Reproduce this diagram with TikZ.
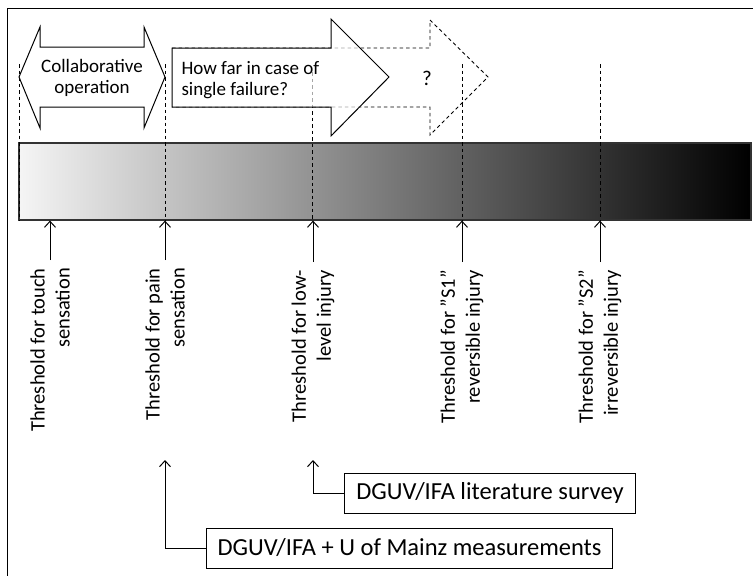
\documentclass[tikz,border=0pt]{standalone}
\usepackage{fontspec}
\setmainfont{Carlito}
\usetikzlibrary{arrows.meta, positioning, calc}

\begin{document}
\begin{tikzpicture}[x=1pt, y=-1pt,
    bar/.style={draw=black!80, line width=1.2pt, left color=black!4, middle color=black!33, right color=black, minimum width=732pt, minimum height=77pt, inner sep=0pt},
    guide/.style={line width=0.9pt, dash pattern=on 3.5pt off 3pt},
    band/.style={line width=1pt, fill=white, fill opacity=0.65, text opacity=1},
    marker/.style={-{Straight Barb[length=6pt, width=11pt]}, line width=1pt},
    level/.style={rotate=90, anchor=east, align=right, inner sep=0pt, font=\fontsize{20.5}{25}\selectfont},
    source/.style={draw, line width=1pt, minimum height=40pt, anchor=west, font=\fontsize{24.5}{28}\selectfont},
    font=\fontsize{19}{21}\selectfont]
\clip (0,0) rectangle (753,576);
\draw[line width=1pt] (7,8) rectangle (790,600);
% severity scale
\node[bar] (bar) at (385,181.5) {};
\foreach \gx/\gy in {19/64, 165/64, 312/72, 462/64, 600/64}
  \draw[guide] (\gx,\gy) -- (\gx,\gy |- bar.south);
% arrows on top of the scale
\draw[guide] (172,48) -- (430,48) -- (430,20) -- (488,77) -- (430,135) -- (430,107) -- (172,107);
\node[font=\fontsize{21}{21}\selectfont] (unknown) at (427,78) {?};
\draw[band] (19,77) -- (40,27) -- (40,47) -- (144,47) -- (144,27) -- (165,77)
  -- (144,128) -- (144,107) -- (40,107) -- (40,128) -- cycle;
\node[align=center] (collab) at (92,78) {Collaborative\\operation};
\draw[band] (172,48) -- (331,48) -- (331,19) -- (389,77) -- (331,136) -- (331,107) -- (172,107) -- cycle;
\node[align=left, anchor=west] (failure) at (178,80) {How far in case of\\single failure?};
% thresholds
\node[level] (touch) at (50,268) {Threshold for touch\\sensation};
\node[level] (pain) at (165,268) {Threshold for pain\\sensation};
\node[level] (low) at (313,270) {Threshold for low-\\level injury};
\node[level] (sone) at (462,270) {Threshold for ”S1”\\reversible injury};
\node[level] (stwo) at (600,270) {Threshold for ”S2”\\irreversible injury};
\foreach \n in {touch, pain, low, sone, stwo}
  \draw[marker, shorten <=8pt] (\n.east) -- (\n.east |- bar.south);
% data sources
\node[source, minimum width=291pt] (survey) at (344,493) {DGUV/IFA literature survey};
\node[source, minimum width=406pt] (mainz) at (206,548) {DGUV/IFA + U of Mainz measurements};
\coordinate (surveytip) at (313,460);
\coordinate (mainztip) at (165,460);
\draw[marker] (survey.west) -| (surveytip);
\draw[marker] (mainz.west) -| (mainztip);
\end{tikzpicture}
\end{document}
